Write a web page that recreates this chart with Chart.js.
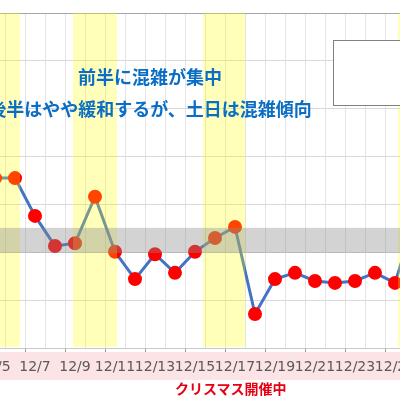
<!DOCTYPE html>
<html>
<head>
<meta charset="utf-8">
<script src="https://cdn.jsdelivr.net/npm/chart.js@4"></script>
<style>
  html, body { margin: 0; padding: 0; width: 400px; height: 400px; overflow: hidden; background: #fff; }
  #wrap { position: absolute; left: -15px; top: 0; width: 440px; height: 400px; }
  .note { position: absolute; font-family: "Noto Sans CJK JP", sans-serif; font-weight: bold; white-space: nowrap; line-height: 1; }
  .blue { color: #0a6ec4; font-size: 18px; width: 400px; left: -50px; text-align: center; }
  #box { position: absolute; left: 333px; top: 40px; width: 120px; height: 64px; border: 1px solid #808080; background: #fff; }
</style>
</head>
<body>
<div id="wrap"><canvas id="myChart" width="440" height="400"></canvas></div>
<div id="box"></div>
<div class="note blue" style="top:67px">前半に混雑が集中</div>
<div class="note blue" style="top:99px">後半はやや緩和するが、土日は混雑傾向</div>
<div class="note" style="left:175px; top:381px; font-size:14px; color:#e60012">クリスマス開催中</div>
<script>
const dates = ['12/5','12/6','12/7','12/8','12/9','12/10','12/11','12/12','12/13','12/14','12/15',
               '12/16','12/17','12/18','12/19','12/20','12/21','12/22','12/23','12/24','12/25','12/26'];
const crowd = [35.5, 35.5, 27.6, 21.3, 21.9, 31.6, 20.1, 14.4, 19.6, 15.7, 20.1,
               23.0, 25.3, 7.1, 14.4, 15.7, 14.0, 13.6, 14.0, 15.7, 13.6, 27];
// yellow ranges (in category steps) and the grey "busy" range (in value units)
const weekendBands = [[-1, 1.25], [3.9, 6.1], [10.4, 12.5], [20.15, 22]];
const busyRange = [19.85, 25.1];
const yMin = 0, yMax = 70, yStep = 10;

const overlays = {
  id: 'overlays',
  beforeDraw(chart) {
    const ctx = chart.ctx, area = chart.chartArea;
    ctx.save();
    ctx.fillStyle = '#fce4e6';
    ctx.fillRect(0, area.bottom + 4, chart.width, 28);
    ctx.restore();
  },
  afterDatasetsDraw(chart) {
    const ctx = chart.ctx, area = chart.chartArea;
    const x = chart.scales.x, y = chart.scales.y;
    ctx.save();
    ctx.fillStyle = 'rgba(255,255,0,0.27)';
    weekendBands.forEach(b => {
      const x0 = x.getPixelForValue(b[0]), x1 = x.getPixelForValue(b[1]);
      ctx.fillRect(x0, area.top, x1 - x0, area.bottom - area.top - 1);
    });
    ctx.fillStyle = 'rgba(140,140,140,0.38)';
    const y0 = y.getPixelForValue(busyRange[1]), y1 = y.getPixelForValue(busyRange[0]);
    ctx.fillRect(area.left, y0, area.right - area.left, y1 - y0);
    ctx.restore();
  }
};

Chart.defaults.font.family = 'DejaVu Sans';

const grafico = document.querySelector('#myChart');
new Chart(grafico, {
  type: 'line',
  data: {
    labels: dates,
    datasets: [{
      data: crowd,
      borderColor: '#4472c4',
      borderWidth: 3,
      pointBackgroundColor: '#ff0000',
      pointBorderColor: '#ff0000',
      pointRadius: 5.5,
      tension: 0
    }]
  },
  options: {
    responsive: false,
    animation: false,
    layout: { autoPadding: false, padding: { top: 13, left: 0, right: 0, bottom: 0 } },
    plugins: { legend: { display: false }, tooltip: { enabled: false } },
    scales: {
      x: {
        offset: true,
        grid: {
          offset: true,
          color: '#e4e4e4',
          tickLength: 4,
          tickColor: c => (c.index % 2 === 0 ? '#9a9a9a' : 'rgba(0,0,0,0)')
        },
        border: { color: '#c8c8c8' },
        ticks: {
          autoSkip: false,
          maxRotation: 0,
          minRotation: 0,
          padding: 7,
          color: '#595959',
          font: { size: 14 },
          callback: (v, i) => (i % 2 === 0 ? dates[i] : '')
        },
        afterFit: s => { s.height = 52; s.paddingLeft = 0; s.paddingRight = 0; }
      },
      y: {
        min: yMin,
        max: yMax,
        ticks: { display: false, stepSize: yStep },
        grid: {
          drawTicks: false,
          color: c => (c.tick && c.tick.value === yMax ? '#a6a6a6' : '#d9d9d9')
        },
        border: { display: false },
        afterFit: s => { s.width = 0; }
      }
    }
  },
  plugins: [overlays]
});
</script>
</body>
</html>
